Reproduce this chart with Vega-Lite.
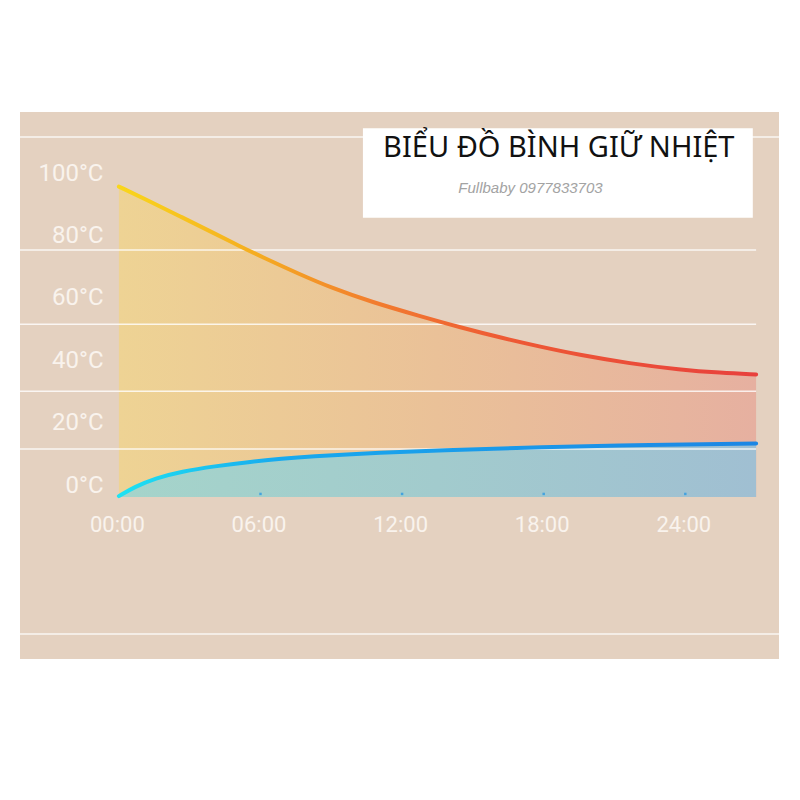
{
  "$schema": "https://vega.github.io/schema/vega-lite/v6.json",
  "width": 759,
  "height": 547,
  "autosize": {"type": "none"},
  "padding": {"left": 20, "top": 112, "right": 21, "bottom": 141},
  "background": "#ffffff",
  "view": {"fill": "#e4d1c0", "stroke": null},
  "datasets": {
    "hot": [
      {"h": 0, "t": 99.5}, {"h": 1.24, "t": 95.0}, {"h": 2.66, "t": 89.7}, {"h": 4.07, "t": 84.4},
      {"h": 5.06, "t": 80.6}, {"h": 6.19, "t": 76.5}, {"h": 7.6, "t": 71.6}, {"h": 9.02, "t": 67.0},
      {"h": 10.71, "t": 62.5}, {"h": 12.75, "t": 58.0}, {"h": 14.45, "t": 54.4}, {"h": 16.27, "t": 50.9},
      {"h": 17.84, "t": 48.2}, {"h": 19.53, "t": 45.5}, {"h": 21.65, "t": 42.8}, {"h": 23.77, "t": 40.8},
      {"h": 25.5, "t": 39.8}, {"h": 27, "t": 39.3}
    ],
    "cold": [
      {"h": 0, "t": 0.3}, {"h": 0.68, "t": 3.3}, {"h": 1.53, "t": 6.0}, {"h": 2.66, "t": 8.2},
      {"h": 4.07, "t": 9.9}, {"h": 5.48, "t": 11.2}, {"h": 6.89, "t": 12.3}, {"h": 8.31, "t": 13.1},
      {"h": 9.72, "t": 13.7}, {"h": 10.78, "t": 14.1}, {"h": 13.6, "t": 15.0}, {"h": 17.84, "t": 16.0},
      {"h": 22.5, "t": 16.7}, {"h": 27, "t": 17.2}
    ],
    "lines": [
      {"t": 115.4, "x1": -4.19, "x2": 27.97},
      {"t": 79.2, "x1": -4.19, "x2": 27.0},
      {"t": 55.4, "x1": -4.19, "x2": 27.0},
      {"t": 33.9, "x1": -4.19, "x2": 27.0},
      {"t": 15.4, "x1": -4.19, "x2": 27.0},
      {"t": -43.9, "x1": -4.19, "x2": 27.97}
    ],
    "dots": [{"h": 6, "t": 1}, {"h": 12, "t": 1}, {"h": 18, "t": 1}, {"h": 24, "t": 1}]
  },
  "layer": [
    {
      "data": {"name": "hot"},
      "mark": {
        "type": "area",
        "interpolate": "basis",
        "fill": {"gradient": "linear", "x1": 0, "x2": 1, "y1": 0, "y2": 0,
          "stops": [{"offset": 0, "color": "#eed394"}, {"offset": 0.5, "color": "#eac198"}, {"offset": 1, "color": "#e6b0a0"}]}
      },
      "encoding": {
        "x": {"field": "h", "type": "quantitative",
          "scale": {"domain": [-4.19, 27.97], "nice": false, "zero": false},
          "axis": {"values": [0, 6, 12, 18, 24], "labelExpr": "(datum.value < 10 ? '0' : '') + datum.value + ':00'",
            "title": null, "grid": false, "domain": false, "ticks": false, "offset": -162, "labelPadding": 17,
            "labelFont": "Roboto", "labelFontWeight": 400, "labelFontSize": 22, "labelColor": "#f9f3ed", "labelOffset": -2}},
        "y": {"field": "t", "type": "quantitative",
          "scale": {"domain": [-51.9, 123.4], "nice": false, "zero": false},
          "axis": {"values": [0, 20, 40, 60, 80, 100], "labelExpr": "datum.value + '°C'",
            "title": null, "grid": false, "domain": false, "ticks": false, "offset": -88, "labelPadding": 5,
            "labelFont": "Roboto", "labelFontWeight": 400, "labelFontSize": 24, "labelColor": "#f9f3ed", "labelOffset": -12}},
        "y2": {"datum": 0}
      }
    },
    {
      "data": {"name": "cold"},
      "mark": {
        "type": "area",
        "interpolate": "basis",
        "fill": {"gradient": "linear", "x1": 0, "x2": 1, "y1": 0, "y2": 0,
          "stops": [{"offset": 0, "color": "#a5d4ca"}, {"offset": 0.5, "color": "#a2cbcd"}, {"offset": 1, "color": "#a0bfd2"}]}
      },
      "encoding": {
        "x": {"field": "h", "type": "quantitative"},
        "y": {"field": "t", "type": "quantitative"},
        "y2": {"datum": 0}
      }
    },
    {
      "data": {"name": "lines"},
      "mark": {"type": "rule", "color": "#ffffff", "strokeWidth": 1.5, "opacity": 0.8},
      "encoding": {
        "x": {"field": "x1", "type": "quantitative"},
        "x2": {"field": "x2"},
        "y": {"field": "t", "type": "quantitative"}
      }
    },
    {
      "data": {"name": "hot"},
      "mark": {
        "type": "line", "interpolate": "basis", "strokeWidth": 4, "strokeCap": "round",
        "stroke": {"gradient": "linear", "x1": 0, "x2": 1, "y1": 0, "y2": 0,
          "stops": [{"offset": 0, "color": "#f9d61c"}, {"offset": 0.2, "color": "#f5b020"}, {"offset": 0.4, "color": "#f27d2e"},
                    {"offset": 0.6, "color": "#ee5a34"}, {"offset": 1, "color": "#e8403c"}]}
      },
      "encoding": {
        "x": {"field": "h", "type": "quantitative"},
        "y": {"field": "t", "type": "quantitative"}
      }
    },
    {
      "data": {"name": "cold"},
      "mark": {
        "type": "line", "interpolate": "basis", "strokeWidth": 4, "strokeCap": "round",
        "stroke": {"gradient": "linear", "x1": 0, "x2": 1, "y1": 0, "y2": 0,
          "stops": [{"offset": 0, "color": "#1fe2f2"}, {"offset": 0.25, "color": "#18aaee"}, {"offset": 1, "color": "#1c86e4"}]}
      },
      "encoding": {
        "x": {"field": "h", "type": "quantitative"},
        "y": {"field": "t", "type": "quantitative"}
      }
    },
    {
      "data": {"name": "dots"},
      "mark": {"type": "square", "size": 6, "color": "#3a9fe0", "opacity": 0.9},
      "encoding": {
        "x": {"field": "h", "type": "quantitative"},
        "y": {"field": "t", "type": "quantitative"}
      }
    },
    {
      "data": {"values": [{}]},
      "mark": {"type": "rect", "fill": "#ffffff"},
      "encoding": {
        "x": {"datum": 10.34}, "x2": {"datum": 26.86},
        "y": {"datum": 118.2}, "y2": {"datum": 89.5}
      }
    },
    {
      "data": {"values": [{"label": "BIỂU ĐỒ BÌNH GIỮ NHIỆT", "h": 18.64, "t": 109}]},
      "mark": {"type": "text", "font": "Noto Sans", "fontSize": 29, "color": "#111111", "align": "center", "baseline": "alphabetic"},
      "encoding": {
        "x": {"field": "h", "type": "quantitative"},
        "y": {"field": "t", "type": "quantitative"},
        "text": {"field": "label"}
      }
    },
    {
      "data": {"values": [{"label": "Fullbaby 0977833703", "h": 17.44, "t": 97.4}]},
      "mark": {"type": "text", "font": "Liberation Sans", "fontStyle": "italic", "fontSize": 15, "color": "#a3a3a3", "align": "center", "baseline": "alphabetic"},
      "encoding": {
        "x": {"field": "h", "type": "quantitative"},
        "y": {"field": "t", "type": "quantitative"},
        "text": {"field": "label"}
      }
    }
  ]
}
